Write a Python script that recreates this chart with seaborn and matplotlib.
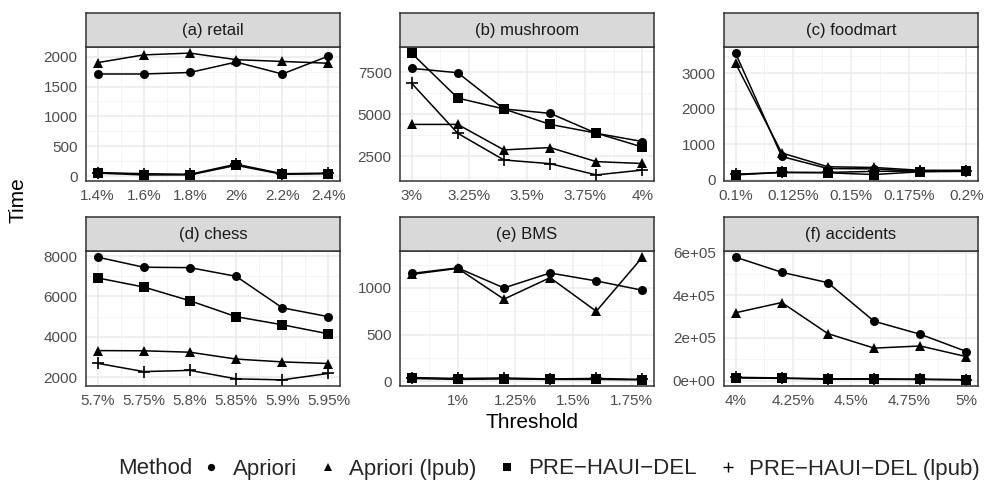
import numpy as np
import pandas as pd
import matplotlib
matplotlib.use("Agg")
from matplotlib import pyplot as plt
from matplotlib.ticker import FixedLocator, AutoMinorLocator, FuncFormatter
from matplotlib.lines import Line2D
import seaborn as sns

# ---------------- data ----------------
methods = ["Apriori", "Apriori (lpub)", "PRE−HAUI−DEL", "PRE−HAUI−DEL (lpub)"]
markers = ["o", "^", "s", "+"]

retail_x = [1.4, 1.6, 1.8, 2.0, 2.2, 2.4]
retail_apriori = [1710, 1710, 1735, 1910, 1710, 2010]
retail_apriori_lpub = [1900, 2030, 2060, 1950, 1920, 1890]
retail_pre = [50, 20, 20, 180, 30, 40]
retail_pre_lpub = [60, 40, 30, 200, 40, 50]

mushroom_x = [3.0, 3.2, 3.4, 3.6, 3.8, 4.0]
mushroom_apriori = [7740, 7480, 5320, 5060, 3870, 3380]
mushroom_apriori_lpub = [4400, 4400, 2880, 3020, 2180, 2070]
mushroom_pre = [8650, 5970, 5320, 4400, 3880, 3050]
mushroom_pre_lpub = [6860, 3870, 2280, 2060, 1390, 1680]

foodmart_x = [0.1, 0.12, 0.14, 0.16, 0.18, 0.2]
foodmart_apriori = [3570, 650, 310, 300, 230, 240]
foodmart_apriori_lpub = [3280, 750, 360, 340, 260, 260]
foodmart_pre = [130, 200, 190, 140, 220, 230]
foodmart_pre_lpub = [150, 200, 200, 230, 240, 250]

chess_x = [5.7, 5.75, 5.8, 5.85, 5.9, 5.95]
chess_apriori = [7950, 7450, 7430, 7000, 5440, 5000]
chess_apriori_lpub = [3320, 3310, 3240, 2900, 2760, 2680]
chess_pre = [6920, 6470, 5790, 5000, 4600, 4150]
chess_pre_lpub = [2690, 2280, 2340, 1920, 1870, 2190]

bms_x = [0.8, 1.0, 1.2, 1.4, 1.6, 1.8]
bms_apriori = [1155, 1215, 1000, 1160, 1075, 975]
bms_apriori_lpub = [1145, 1210, 880, 1110, 750, 1330]
bms_pre = [30, 20, 25, 20, 20, 15]
bms_pre_lpub = [40, 30, 35, 25, 30, 20]

accidents_x = [4.0, 4.2, 4.4, 4.6, 4.8, 5.0]
accidents_apriori = [579000, 508000, 459000, 278000, 217000, 136000]
accidents_apriori_lpub = [318000, 366000, 220000, 152000, 162000, 112000]
accidents_pre = [12000, 10000, 6000, 6000, 5000, 3000]
accidents_pre_lpub = [15000, 12000, 8000, 8000, 6000, 4000]

panel_titles = ["(a) retail", "(b) mushroom", "(c) foodmart",
                "(d) chess", "(e) BMS", "(f) accidents"]
panel_x = [retail_x, mushroom_x, foodmart_x, chess_x, bms_x, accidents_x]
panel_series = [
    [retail_apriori, retail_apriori_lpub, retail_pre, retail_pre_lpub],
    [mushroom_apriori, mushroom_apriori_lpub, mushroom_pre, mushroom_pre_lpub],
    [foodmart_apriori, foodmart_apriori_lpub, foodmart_pre, foodmart_pre_lpub],
    [chess_apriori, chess_apriori_lpub, chess_pre, chess_pre_lpub],
    [bms_apriori, bms_apriori_lpub, bms_pre, bms_pre_lpub],
    [accidents_apriori, accidents_apriori_lpub, accidents_pre, accidents_pre_lpub],
]
x_breaks = [
    [1.4, 1.6, 1.8, 2.0, 2.2, 2.4],
    [3.0, 3.25, 3.5, 3.75, 4.0],
    [0.1, 0.125, 0.15, 0.175, 0.2],
    [5.7, 5.75, 5.8, 5.85, 5.9, 5.95],
    [1.0, 1.25, 1.5, 1.75],
    [4.0, 4.25, 4.5, 4.75, 5.0],
]
y_breaks = [
    [0, 500, 1000, 1500, 2000],
    [2500, 5000, 7500],
    [0, 1000, 2000, 3000],
    [2000, 4000, 6000, 8000],
    [0, 500, 1000],
    [0, 200000, 400000, 600000],
]

rows = []
for title, xs, series in zip(panel_titles, panel_x, panel_series):
    for m, ys in zip(methods, series):
        for x, y in zip(xs, ys):
            rows.append({"Panel": title, "Method": m, "Threshold": x, "Time": y})
df = pd.DataFrame(rows)

# ---------------- style ----------------
sns.set_style("white")
plt.rcParams["font.family"] = ["Liberation Sans", "DejaVu Sans"]

W, H = 984, 480
fig = plt.figure(figsize=(W / 100, H / 100), dpi=100)

col_left = [86, 400, 724]
panel_w = 254
row_strip_top = [13, 217]
row_plot_top = [47, 251]
row_plot_bot = [181, 386]

sizes = {"o": 6.5, "^": 7, "s": 6.5, "+": 9}

pct = FuncFormatter(lambda v, p: f"{v:g}%")
sci = FuncFormatter(lambda v, p: "0e+00" if v == 0 else f"{v:.0e}")

for i, title in enumerate(panel_titles):
    r, c = divmod(i, 3)
    left = col_left[c]
    top, bot = row_plot_top[r], row_plot_bot[r]
    ax = fig.add_axes([left / W, 1 - bot / H, panel_w / W, (bot - top) / H])
    sub = df[df.Panel == title]
    for m, mk in zip(methods, markers):
        s = sub[sub.Method == m]
        sns.lineplot(data=s, x="Threshold", y="Time", ax=ax, color="black",
                     linewidth=1.1, marker=mk, markersize=sizes[mk],
                     markeredgewidth=1.2 if mk == "+" else 0, markeredgecolor="black",
                     legend=False)
    ax.margins(x=0.05, y=0.05)
    ax.xaxis.set_major_locator(FixedLocator(x_breaks[i]))
    ax.yaxis.set_major_locator(FixedLocator(y_breaks[i]))
    ax.xaxis.set_minor_locator(AutoMinorLocator(2))
    ax.yaxis.set_minor_locator(AutoMinorLocator(2))
    ax.xaxis.set_major_formatter(pct)
    if i == 5:
        ax.yaxis.set_major_formatter(sci)
    ax.grid(which="major", color="#EBEBEB", linewidth=1.1)
    ax.grid(which="minor", color="#F2F2F2", linewidth=0.6)
    ax.set_axisbelow(True)
    ax.tick_params(which="major", length=3.5, width=0.8, color="#333333",
                   labelcolor="#4D4D4D", labelsize=11, pad=2.5)
    ax.tick_params(which="minor", length=0)
    for sp in ax.spines.values():
        sp.set_color("#333333")
        sp.set_linewidth(1.1)
    ax.set_xlabel("")
    ax.set_ylabel("")

    # strip
    st = row_strip_top[r]
    sax = fig.add_axes([left / W, 1 - top / H, panel_w / W, (top - st) / H])
    sax.set_facecolor("#D9D9D9")
    sax.set_xticks([])
    sax.set_yticks([])
    for sp in sax.spines.values():
        sp.set_color("#333333")
        sp.set_linewidth(1.1)
    sax.text(0.5, 0.5, title, ha="center", va="center", fontsize=12,
             color="#1A1A1A", transform=sax.transAxes)

fig.text(18 / W, 1 - 200 / H, "Time", rotation=90, ha="center", va="center",
         fontsize=15, color="black")
fig.text(532 / W, 1 - 423 / H, "Threshold", ha="center", va="center",
         fontsize=15, color="black")

handles = [Line2D([], [], linestyle="none", marker=mk, color="black",
                  markersize=sizes[mk] * 0.8,
                  markeredgewidth=1.0 if mk == "+" else 0)
           for mk in markers]
leg = fig.legend(handles, methods, loc="center right",
                 bbox_to_anchor=(980 / W, 1 - 469 / H),
                 ncol=4, frameon=False, fontsize=16, handlelength=1.0,
                 handletextpad=0.45, columnspacing=0.9, borderaxespad=0,
                 borderpad=0)
fig.canvas.draw()
bb = leg.get_window_extent()
fig.text((bb.x0 - 8) / W, 1 - 469 / H, "Method", ha="right", va="center",
         fontsize=16)

fig.savefig("out.png", dpi=100)
